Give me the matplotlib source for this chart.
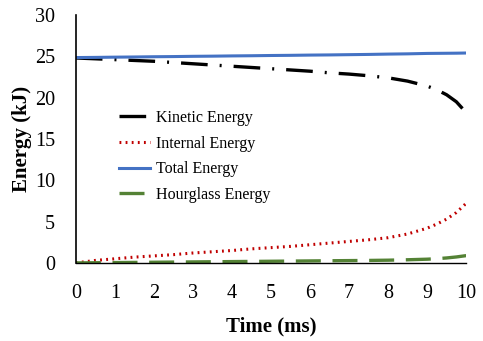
import matplotlib.pyplot as plt
import numpy as np

plt.rcParams['font.family'] = ['Liberation Serif', 'DejaVu Serif']

time = [0, 0.5, 1, 1.5, 2, 2.5, 3, 3.5, 4, 4.5, 5, 5.5, 6, 6.5, 7, 7.5, 8, 8.5, 9, 9.25, 9.5, 9.75, 10]
kinetic = [24.8, 24.7, 24.6, 24.5, 24.4, 24.25, 24.1, 23.95, 23.8, 23.65, 23.5, 23.35, 23.2, 23.0, 22.85, 22.65, 22.4, 22.0, 21.4, 20.95, 20.35, 19.5, 18.2]
internal = [0.0, 0.3, 0.5, 0.7, 0.85, 1.0, 1.2, 1.35, 1.5, 1.7, 1.85, 2.0, 2.2, 2.4, 2.6, 2.8, 3.05, 3.5, 4.2, 4.7, 5.3, 6.1, 7.2]
total = [24.85, 24.87, 24.9, 24.92, 24.95, 24.97, 25.0, 25.02, 25.05, 25.07, 25.1, 25.12, 25.15, 25.17, 25.2, 25.23, 25.27, 25.3, 25.35, 25.36, 25.37, 25.38, 25.4]
hourglass = [0.0, 0.02, 0.04, 0.06, 0.08, 0.1, 0.12, 0.14, 0.16, 0.18, 0.2, 0.22, 0.24, 0.26, 0.28, 0.3, 0.33, 0.38, 0.45, 0.51, 0.6, 0.72, 0.88]

fig = plt.figure(figsize=(4.83, 3.41), dpi=100)
ax = fig.add_axes([0.157, 0.229, 0.808, 0.727])

ax.plot(time, kinetic, color='black', lw=2.4, dashes=(8, 3.6, 0.6, 3.6), label='Kinetic Energy')
ax.plot(time, internal, color='#c00000', lw=2.2, dashes=(0.6, 1.4), label='Internal Energy')
ax.plot(time, total, color='#4472c4', lw=2.2, label='Total Energy')
ax.plot(time, hourglass, color='#548235', lw=2.4, dashes=(7.5, 3.5), label='Hourglass Energy')

ax.set_xlim(0, 10)
ax.set_ylim(0, 30)
ax.set_xticks(range(0, 11))
ax.set_yticks(range(0, 31, 5))
ax.tick_params(length=0, labelsize=14.5)
ax.tick_params(axis='x', pad=15)
ax.tick_params(axis='y', pad=15)
for s in ['top', 'right']:
    ax.spines[s].set_visible(False)
ax.spines['left'].set_color('black')
ax.spines['bottom'].set_color('black')
ax.spines['left'].set_linewidth(1.2)
ax.spines['bottom'].set_linewidth(1.0)

ax.set_xlabel('Time (ms)', fontsize=15, fontweight='bold', labelpad=10)
ax.set_ylabel('Energy (kJ)', fontsize=15, fontweight='bold', labelpad=2)

ax.legend(loc='center left', bbox_to_anchor=(0.075, 0.43), frameon=False, fontsize=11.5,
          handlelength=1.9, labelspacing=0.6, handletextpad=0.4)

fig.savefig('out.png', dpi=100)
